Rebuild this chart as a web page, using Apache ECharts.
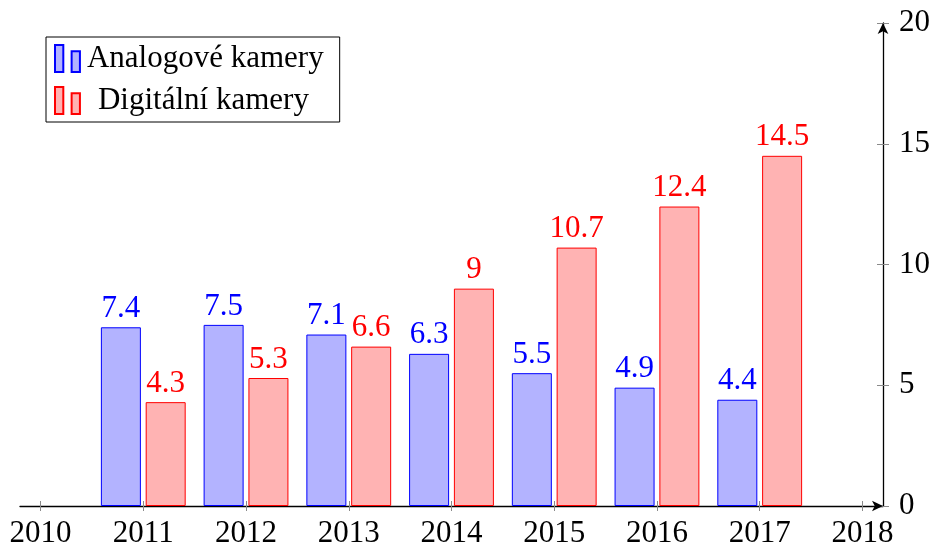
<!DOCTYPE html>
<html lang="cs">

<head>
  <meta charset="UTF-8">
  <title>Kamery</title>
  <style>
    html,
    body {
      width: 100%;
      height: 100%;
      padding: 0;
      margin: 0;
      background: #fff;
    }

    #eChart {
      width: 934px;
      height: 549px;
    }
  </style>
</head>

<body>
  <div id="eChart"></div>

  <script src="https://cdn.jsdelivr.net/npm/echarts@6/dist/echarts.min.js"></script>
  <script>
    // data
    var years = [2011, 2012, 2013, 2014, 2015, 2016, 2017];
    var analog = [7.4, 7.5, 7.1, 6.3, 5.5, 4.9, 4.4];
    var digital = [4.3, 5.3, 6.6, 9, 10.7, 12.4, 14.5];
    var xTicks = [2010, 2011, 2012, 2013, 2014, 2015, 2016, 2017, 2018];
    var seriesNames = ['Analogové kamery', 'Digitální kamery'];

    var font = '"Liberation Serif", "Times New Roman", serif';
    var tickColor = '#8a8a8a';
    var fs = 31;

    function pairs(vals) {
      return years.map(function (y, i) { return [y, vals[i]]; });
    }

    var eChartDom = document.getElementById('eChart');
    var myChart = echarts.init(eChartDom, null, { renderer: 'canvas' });

    var legendIcon = 'path://M0,0h8v26h-8z M16,6h8v20h-8z';

    function barSeries(name, vals, fill, stroke) {
      return {
        name: name,
        type: 'bar',
        data: pairs(vals),
        barWidth: 40,
        barGap: '12%',
        itemStyle: { color: fill, borderColor: stroke, borderWidth: 1 },
        label: {
          show: true,
          position: 'top',
          distance: 3,
          color: stroke,
          fontFamily: font,
          fontSize: fs,
          formatter: function (p) { return p.value[1]; }
        }
      };
    }

    myChart.setOption({
      animation: false,
      grid: { left: 20, right: 51, top: 23, bottom: 42 },
      legend: {
        orient: 'vertical',
        left: 46,
        top: 37,
        borderColor: '#000',
        borderWidth: 1,
        padding: [6, 16, 6, 8],
        itemWidth: 25,
        itemHeight: 27,
        itemGap: 11,
        icon: legendIcon,
        data: seriesNames,
        textStyle: {
          fontFamily: font,
          fontSize: fs,
          color: '#000',
          padding: [0, 0, 0, 2],
          // druhy radek je v puvodnim grafu vycentrovany
          rich: {
            d: { fontFamily: font, fontSize: fs, color: '#000', padding: [0, 0, 0, 11] }
          }
        },
        formatter: function (name) {
          return name === seriesNames[1] ? '{d|' + name + '}' : name;
        }
      },
      xAxis: [{
        type: 'value',
        min: 2009.8,
        max: 2018.2,
        position: 'bottom',
        splitLine: { show: false },
        axisLine: {
          show: true,
          onZero: false,
          lineStyle: { color: '#000', width: 1.3 },
          symbol: ['none', 'arrow'],
          symbolSize: [8, 11]
        },
        axisTick: { show: true, length: 5, customValues: xTicks, lineStyle: { color: tickColor } },
        axisLabel: {
          customValues: xTicks,
          margin: 12,
          color: '#000',
          fontFamily: font,
          fontSize: fs,
          formatter: function (v) { return String(v); }
        }
      }, {
        type: 'value',
        min: 2009.8,
        max: 2018.2,
        position: 'bottom',
        splitLine: { show: false },
        axisLine: { show: false },
        axisTick: { show: true, inside: true, length: 5, customValues: xTicks, lineStyle: { color: tickColor } },
        axisLabel: { show: false }
      }],
      yAxis: [{
        type: 'value',
        position: 'right',
        min: 0,
        max: 20,
        interval: 5,
        splitLine: { show: false },
        axisLine: {
          show: true,
          lineStyle: { color: '#000', width: 1.3 },
          symbol: ['none', 'arrow'],
          symbolSize: [8, 11]
        },
        axisTick: { show: true, length: 6, lineStyle: { color: tickColor } },
        axisLabel: { margin: 16, color: '#000', fontFamily: font, fontSize: fs }
      }, {
        type: 'value',
        position: 'right',
        min: 0,
        max: 20,
        interval: 5,
        splitLine: { show: false },
        axisLine: { show: false },
        axisTick: { show: true, inside: true, length: 6, lineStyle: { color: tickColor } },
        axisLabel: { show: false }
      }],
      series: [
        barSeries(seriesNames[0], analog, 'rgb(179,179,255)', '#0000ff'),
        barSeries(seriesNames[1], digital, 'rgb(255,179,179)', '#ff0000')
      ]
    });
  </script>
</body>

</html>
